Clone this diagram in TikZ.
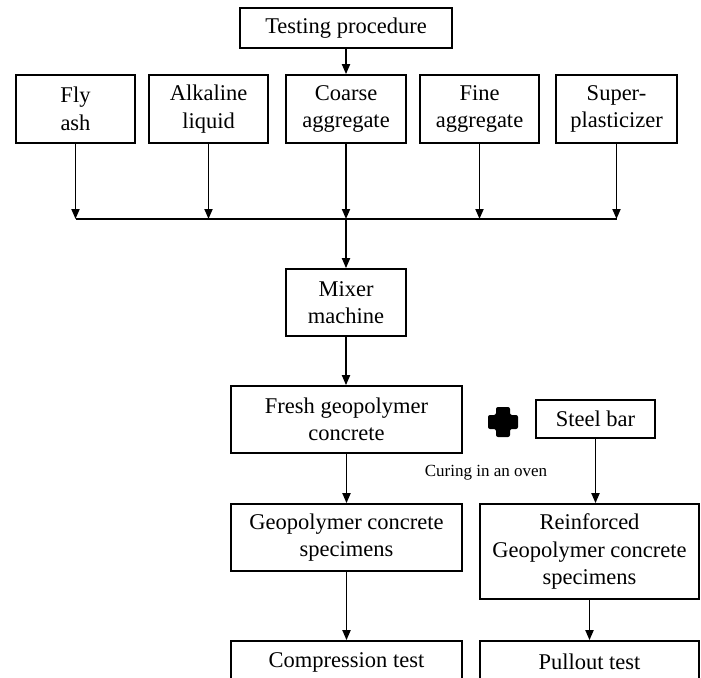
\documentclass[tikz,border=0pt]{standalone}
\usepackage{fontspec}
\setmainfont{Liberation Serif}
\usetikzlibrary{arrows.meta}
\begin{document}
\begin{tikzpicture}[x=1pt,y=-1pt,
  box/.style={draw,line width=1.7pt,align=center,inner sep=0pt,
    font=\fontsize{22.5}{27.5}\selectfont},
  arr/.style={line width=1.8pt,-{Triangle[width=8pt,length=10pt]}},
  ln/.style={line width=1.8pt}]
\useasboundingbox (0,0) rectangle (701,677);
\clip (0,0) rectangle (701,677);
\fill[white] (0,0) rectangle (701,677);
\node[box,minimum width=212pt,minimum height=40pt] (test) at (346,28) {Testing procedure};
\node[box,minimum width=119pt,minimum height=68pt] (fly) at (75.5,109) {Fly\\ash};
\node[box,minimum width=119pt,minimum height=68pt] (alk) at (208.5,109) {Alkaline\\liquid};
\node[box,minimum width=120pt,minimum height=68pt] (coarse) at (346,109) {Coarse\\aggregate};
\node[box,minimum width=119pt,minimum height=68pt] (fine) at (479.5,109) {Fine\\aggregate};
\node[box,minimum width=121pt,minimum height=68pt] (super) at (616.5,109) {Super-\\plasticizer};
\coordinate (junc) at (346,219);
\node[box,minimum width=120pt,minimum height=67pt] (mixer) at (346,302.5) {Mixer\\machine};
\node[box,minimum width=231pt,minimum height=67pt] (fresh) at (346.5,419.5) {Fresh geopolymer\\concrete};
\node[box,minimum width=119pt,minimum height=38pt] (steel) at (595.5,419) {Steel bar};
\node[box,minimum width=231pt,minimum height=67pt] (geo) at (346.5,537.5) {Geopolymer concrete\\specimens};
\node[box,minimum width=219pt,minimum height=95pt] (reinf) at (589.5,551.5) {Reinforced\\Geopolymer concrete\\specimens};
\node[box,minimum width=231pt,minimum height=42pt] (comp) at (346.5,662) {Compression test};
\node[box,minimum width=219pt,minimum height=42pt] (pull) at (589.5,662) {Pullout test};
\node[font=\fontsize{17}{20}\selectfont,inner sep=0pt] (curing) at (486,473) {Curing in an oven};
% plus sign
\fill[rounded corners=2pt] (496,407) -- (510,407) -- (510,415) -- (518,415) -- (518,429) -- (510,429) -- (510,437) -- (496,437) -- (496,429) -- (488,429) -- (488,415) -- (496,415) -- cycle;
% connectors
\draw[arr] (test.south) -- (coarse.north);
\draw[arr] (fly.south) -- (fly.south |- junc);
\draw[arr] (alk.south) -- (alk.south |- junc);
\draw[arr] (coarse.south) -- (junc);
\draw[arr] (fine.south) -- (fine.south |- junc);
\draw[arr] (super.south) -- (super.south |- junc);
\draw[ln] (fly.south |- junc) -- (super.south |- junc);
\draw[arr] (junc) -- (mixer.north);
\draw[arr] (mixer.south) -- (mixer.south |- fresh.north);
\draw[arr] (fresh.south) -- (geo.north);
\draw[arr] (geo.south) -- (comp.north);
\draw[arr] (steel.south) -- (steel.south |- reinf.north);
\draw[arr] (reinf.south) -- (pull.north);
\end{tikzpicture}
\end{document}
